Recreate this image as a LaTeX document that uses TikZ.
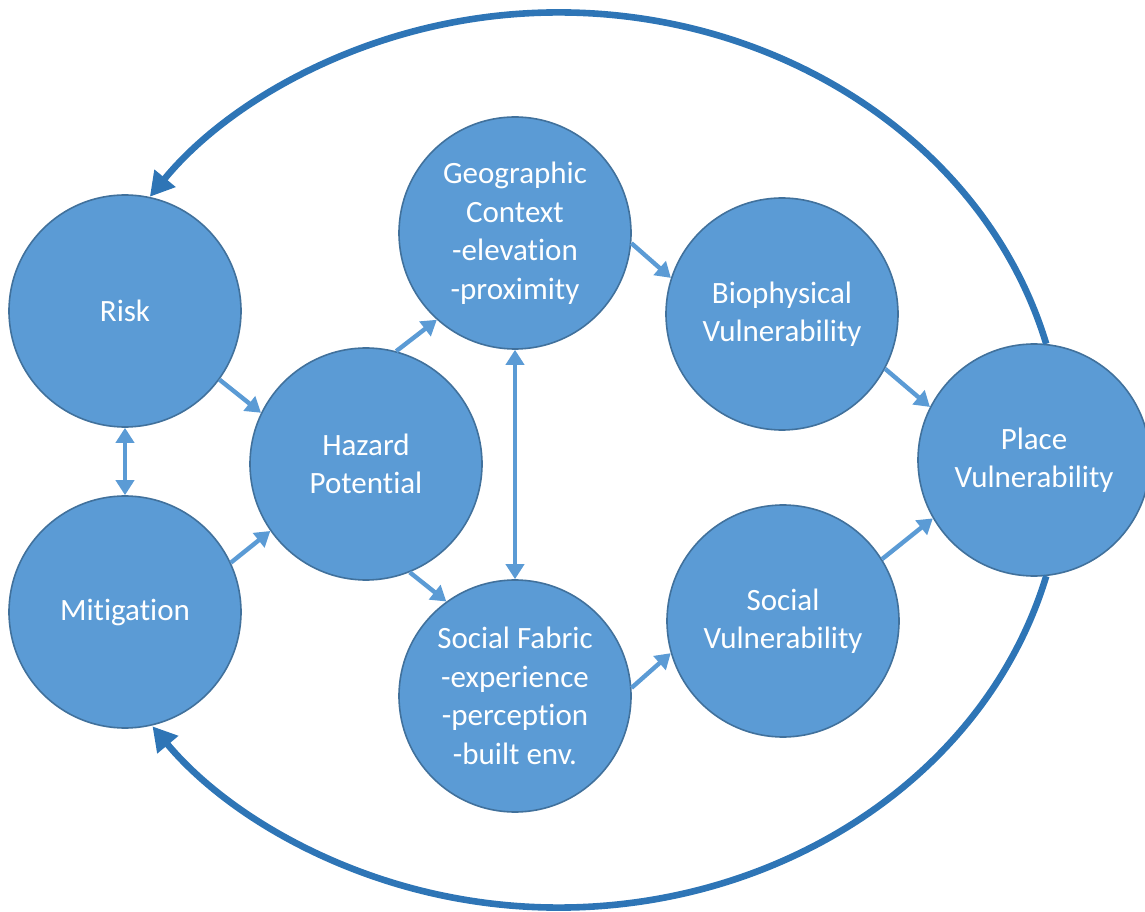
\documentclass[tikz,border=0pt]{standalone}
\usepackage{fontspec}
\setmainfont{Carlito}[Ligatures=NoCommon]
\usepackage{xcolor}
\usetikzlibrary{arrows.meta}
\definecolor{nodeblue}{HTML}{5B9BD5}
\definecolor{nodeedge}{HTML}{41719C}
\definecolor{loopblue}{HTML}{2E75B6}

\begin{document}
\begin{tikzpicture}[
    x=0.5pt, y=0.5pt,
    factor/.style={circle, draw=nodeedge, line width=0.8pt, fill=nodeblue, text=white, align=center, minimum size=116pt, inner sep=0pt, font=\fontsize{15.5}{19.25}\selectfont},
    link/.style={-{Triangle[length=7.5pt,width=9pt]}, line width=2.2pt, draw=nodeblue},
    twoway/.style={{Triangle[length=7.5pt,width=9pt]}-{Triangle[length=7.5pt,width=9pt]}, line width=2.2pt, draw=nodeblue},
    feedback/.style={-{Triangle[length=12pt,width=13pt]}, line width=3.3pt, draw=loopblue}
]
    \useasboundingbox (0,0) rectangle (1145,911);

    \node[factor] (risk) at (125,600) {Risk};
    \node[factor] (mitig) at (125,299) {Mitigation};
    \node[factor] (hazard) at (366,447) {Hazard\\Potential};
    \node[factor] (geo) at (515,678) {Geographic\\Context\\-elevation\\-proximity};
    \node[factor] (fabric) at (515,215) {Social Fabric\\-experience\\-perception\\-built env.};
    \node[factor] (biovul) at (782,597) {Biophysical\\Vulnerability};
    \node[factor] (socvul) at (783,290) {Social\\Vulnerability};
    \node[factor] (place) at (1034,451) {Place\\Vulnerability};

    \draw[twoway] (risk.south) -- (mitig.north);
    \draw[link] (risk.-36) -- (hazard.154);
    \draw[link] (mitig.25) -- (hazard.215);
    \draw[link] (hazard.75) -- (geo.228);
    \draw[link] (hazard.-68) -- (fabric.126);
    \draw[twoway] (geo.south) -- (fabric.north);
    \draw[link] (geo.-5) -- (biovul.162);
    \draw[link] (fabric.4) -- (socvul.196);
    \draw[link] (biovul.-28) -- (place.153);
    \draw[link] (socvul.32) -- (place.210);

    % feedback loops back to the left
    \draw[feedback] (place.84) arc[start angle=15, end angle=144, x radius=252.5pt, y radius=223.5pt];
    \draw[feedback] (place.-84) arc[start angle=-15, end angle=-143.5, x radius=252.5pt, y radius=223.5pt];
\end{tikzpicture}
\end{document}
